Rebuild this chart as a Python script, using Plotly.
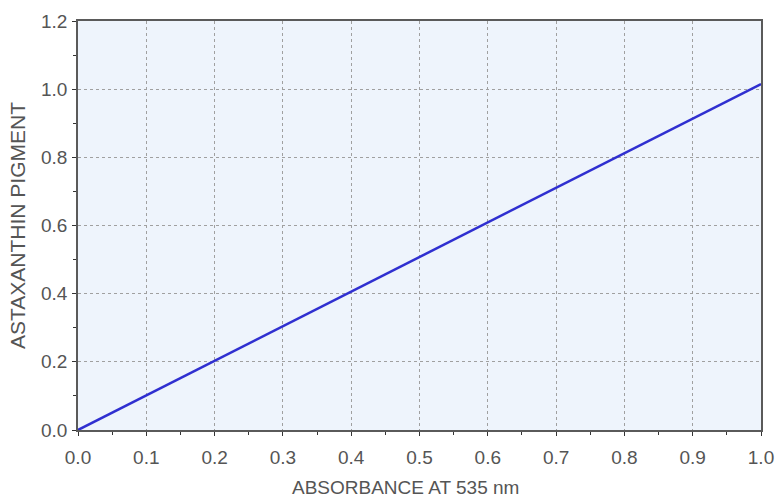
import plotly.graph_objects as go

absorbance = [0.0, 0.2, 0.4, 0.6, 0.8, 1.0]
pigment = [0.0, 0.203, 0.406, 0.609, 0.812, 1.015]
x_ticks = [0.0, 0.1, 0.2, 0.3, 0.4, 0.5, 0.6, 0.7, 0.8, 0.9, 1.0]
y_ticks = [0.0, 0.2, 0.4, 0.6, 0.8, 1.0, 1.2]
x_title = "ABSORBANCE AT 535 nm"
y_title = "ASTAXANTHIN PIGMENT"

fig = go.Figure()
fig.add_trace(go.Scatter(x=absorbance, y=pigment, mode="lines",
                         line=dict(color="#2f2fd0", width=2.5), showlegend=False))

font = dict(family="Liberation Sans, Arial, sans-serif", color="#555555")
common = dict(showline=True, linecolor="#5a5a5a", linewidth=1.5, mirror=True,
              showgrid=True, gridcolor="#a0a0a0", griddash="dot", gridwidth=1,
              ticks="outside", ticklen=4, tickcolor="#333333", zeroline=False,
              automargin=False, tickfont=dict(size=19, **font))

fig.update_xaxes(range=[0, 1.0], tickvals=x_ticks,
                 ticktext=[f"{v:.1f}" for v in x_ticks],
                 ticklabelstandoff=5,
                 minor=dict(dtick=0.05, ticks="outside", ticklen=3, tickcolor="#333333", showgrid=False),
                 **common)
fig.update_yaxes(range=[0, 1.2], tickvals=y_ticks,
                 ticktext=[f"{v:.1f}" for v in y_ticks],
                 ticklabelstandoff=1,
                 minor=dict(dtick=0.1, ticks="outside", ticklen=3, tickcolor="#333333", showgrid=False),
                 title=dict(text=y_title, font=dict(size=21, **font), standoff=10),
                 **common)

fig.add_annotation(text=x_title, xref="paper", yref="paper", x=0.479, y=0,
                   xanchor="center", yanchor="middle", yshift=-57, showarrow=False,
                   font=dict(size=19, **font))

fig.update_layout(width=776, height=499,
                  margin=dict(l=78, r=15, t=21, b=69),
                  plot_bgcolor="#eef4fc", paper_bgcolor="white")

fig.write_html("out.html", config={"displayModeBar": False},
               post_script="document.body.style.margin='0';document.body.style.overflow='hidden';")
